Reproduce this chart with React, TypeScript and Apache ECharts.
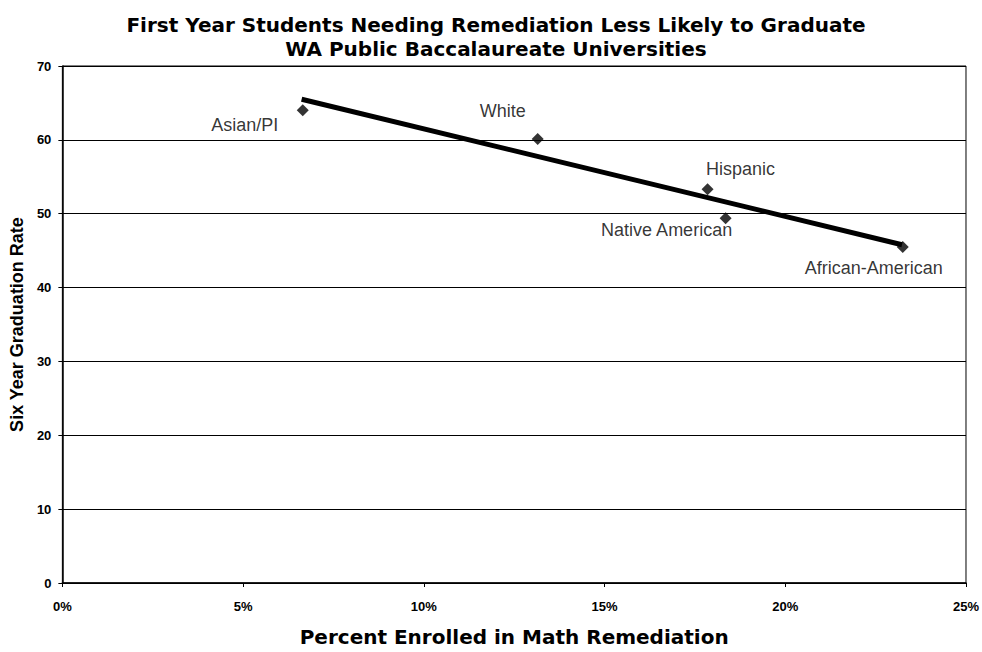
import React, { useEffect, useRef } from "react";
import * as echarts from "echarts";

const groups = ["Asian/PI", "White", "Hispanic", "Native American", "African-American"];
const remediationPct = [6.65, 13.15, 17.85, 18.35, 23.25];
const gradRate = [64.0, 60.1, 53.3, 49.4, 45.5];
const trendX = [6.62, 23.23];
const trendY = [65.5, 45.8];
const xTicks = [0, 5, 10, 15, 20, 25];
const yTicks = [0, 10, 20, 30, 40, 50, 60, 70];

const labelOffsets: Record<string, number[]> = {
  "Asian/PI": [-58, 15],
  White: [-35, -28],
  Hispanic: [33, -20],
  "Native American": [-59, 12],
  "African-American": [-29, 21],
};

const FONT = "'Liberation Sans', Arial, sans-serif";
const WIDE = "'DejaVu Sans', 'Liberation Sans', Arial, sans-serif";

export default function App() {
  const ref = useRef<HTMLDivElement>(null);
  useEffect(() => {
    if (!ref.current) return;
    const chart = echarts.init(ref.current, null, { renderer: "svg" });
    const points = groups.map((g, i) => ({
      value: [remediationPct[i], gradRate[i]],
      name: g,
      label: {
        show: true,
        formatter: g,
        position: "inside" as any,
        align: "center",
        verticalAlign: "middle",
        offset: labelOffsets[g],
        color: "#000",
        fontFamily: FONT,
        fontSize: 18,
      },
    }));
    chart.setOption({
      animation: false,
      backgroundColor: "#fff",
      title: {
        text: "First Year Students Needing Remediation Less Likely to Graduate\nWA Public Baccalaureate Universities",
        left: 491,
        top: 8,
        textAlign: "center",
        textStyle: {
          fontFamily: WIDE,
          fontSize: 20,
          fontWeight: "bold",
          color: "#000",
          lineHeight: 24,
        },
      },
      grid: { left: 62, right: 15, top: 66, bottom: 63, show: true, borderColor: "#000", borderWidth: 1 },
      xAxis: {
        type: "value",
        min: xTicks[0],
        max: xTicks[xTicks.length - 1],
        interval: 5,
        name: "Percent Enrolled in Math Remediation",
        nameLocation: "middle",
        nameGap: 44,
        nameTextStyle: { fontFamily: WIDE, fontSize: 20, fontWeight: "bold", color: "#000" },
        axisLine: { show: true, lineStyle: { color: "#000", width: 1.5 } },
        axisTick: { show: true, inside: false, length: 4, lineStyle: { color: "#000" } },
        axisLabel: {
          formatter: (v: number) => v + "%",
          fontFamily: FONT,
          fontSize: 13,
          fontWeight: "bold",
          color: "#000",
          margin: 17,
        },
        splitLine: { show: false },
      },
      yAxis: {
        type: "value",
        min: yTicks[0],
        max: yTicks[yTicks.length - 1],
        interval: 10,
        name: "Six Year Graduation Rate",
        nameLocation: "middle",
        nameGap: 27,
        nameTextStyle: { fontFamily: FONT, fontSize: 18, fontWeight: "bold", color: "#000" },
        axisLine: { show: true, lineStyle: { color: "#000", width: 1.5 } },
        axisTick: { show: true, inside: false, length: 4, lineStyle: { color: "#000" } },
        axisLabel: {
          fontFamily: FONT,
          fontSize: 13,
          fontWeight: "bold",
          color: "#000",
          margin: 11,
        },
        splitLine: { show: true, lineStyle: { color: "#000", width: 1 } },
      },
      series: [
        {
          type: "line",
          data: trendX.map((x, i) => [x, trendY[i]]),
          symbol: "none",
          lineStyle: { color: "#000", width: 5 },
          silent: true,
          z: 2,
        },
        {
          type: "scatter",
          data: points,
          symbol: "diamond",
          symbolSize: 12,
          itemStyle: { color: "#000" },
          z: 3,
        },
      ],
    });
    return () => chart.dispose();
  }, []);
  return <div ref={ref} style={{ width: 982, height: 652, position: "absolute", left: 0, top: 0 }} />;
}
